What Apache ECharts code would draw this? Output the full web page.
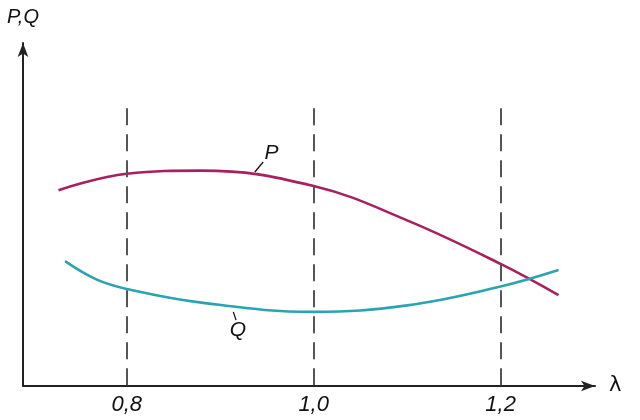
<!DOCTYPE html>
<html><head><meta charset="utf-8">
<script src="https://cdn.jsdelivr.net/npm/echarts@6/dist/echarts.min.js"></script>
<style>html,body{margin:0;padding:0;background:#fff}#c{width:640px;height:420px}</style>
</head><body><div id="c"></div>
<script>
// data (λ, value in arbitrary units)
const lambdaTicks = [0.8, 1.0, 1.2];
const pLambda = [0.727,0.80,0.88,1.00,1.10,1.20,1.262];
const pValues = [57.1,61.9,62.8,58.3,48.3,35.6,26.5];
const qLambda = [0.734,0.768,0.80,0.88,1.00,1.10,1.20,1.262];
const qValues = [36.4,31.0,28.3,24.3,21.6,23.5,29.0,33.8];
const dashTop = 81;
const pLabelPos = [0.955, 67.9], pLeader = [[0.937,62.4],[0.946,65.3]];
const qLabelPos = [0.919, 16.3], qLeader = [[0.914,21.6],[0.917,19.2]];

const zip = (a,b)=>a.map((v,i)=>[v,b[i]]);
const labelFont = {fontFamily:'Liberation Sans, Arial, sans-serif', fontStyle:'italic', fontSize:21, color:'#111'};
const chart = echarts.init(document.getElementById('c'));
chart.setOption({
  animation:false,
  backgroundColor:'#fff',
  grid:{left:23, right:45, top:43, bottom:34},
  xAxis:{type:'value', min:0.689, max:1.301,
    name:'λ', nameLocation:'end', nameGap:14,
    nameTextStyle:{fontFamily:'DejaVu Sans, sans-serif', fontSize:21, color:'#111', verticalAlign:'middle'},
    axisLine:{show:true, symbol:['none','arrow'], symbolSize:[8,14], lineStyle:{color:'#222', width:2}},
    axisTick:{show:false}, splitLine:{show:false},
    axisLabel:{show:true, customValues:lambdaTicks, margin:8,
      formatter:v=>v.toFixed(1).replace('.',','),
      fontFamily:'Liberation Sans, Arial, sans-serif', fontStyle:'italic', fontSize:22, color:'#111'}
  },
  yAxis:{type:'value', min:0, max:100,
    name:'P,Q', nameLocation:'end', nameGap:16,
    nameTextStyle:Object.assign({}, labelFont, {fontSize:20, align:'center'}),
    axisLine:{show:true, onZero:false, symbol:['none','arrow'], symbolSize:[8,14], lineStyle:{color:'#222', width:2}},
    axisTick:{show:false}, splitLine:{show:false}, axisLabel:{show:false}
  },
  series:[
    {type:'line', name:'P', data:zip(pLambda,pValues), smooth:0.4, showSymbol:false,
     lineStyle:{color:'#a8205f', width:2.6}, z:3,
     markLine:{silent:true, symbol:['none','none'], label:{show:false},
       lineStyle:{color:'#555', type:[17,9], width:2},
       data: lambdaTicks.map(t=>[{coord:[t,dashTop]},{coord:[t,0]}]).concat([
         [{coord:pLeader[0], lineStyle:{type:'solid', color:'#111', width:1.3}},{coord:pLeader[1]}]
       ])},
     markPoint:{symbol:'circle', symbolSize:0, data:[{coord:pLabelPos, label:Object.assign({show:true, position:'inside', formatter:'P'}, labelFont)}]}
    },
    {type:'line', name:'Q', data:zip(qLambda,qValues), smooth:0.4, showSymbol:false,
     lineStyle:{color:'#2aa3b3', width:2.6}, z:3,
     markLine:{silent:true, symbol:['none','none'], label:{show:false},
       lineStyle:{color:'#111', type:'solid', width:1.3},
       data:[[{coord:qLeader[0]},{coord:qLeader[1]}]]},
     markPoint:{symbol:'circle', symbolSize:0, data:[{coord:qLabelPos, label:Object.assign({show:true, position:'inside', formatter:'Q'}, labelFont)}]}
    }
  ]
});
</script></body></html>
